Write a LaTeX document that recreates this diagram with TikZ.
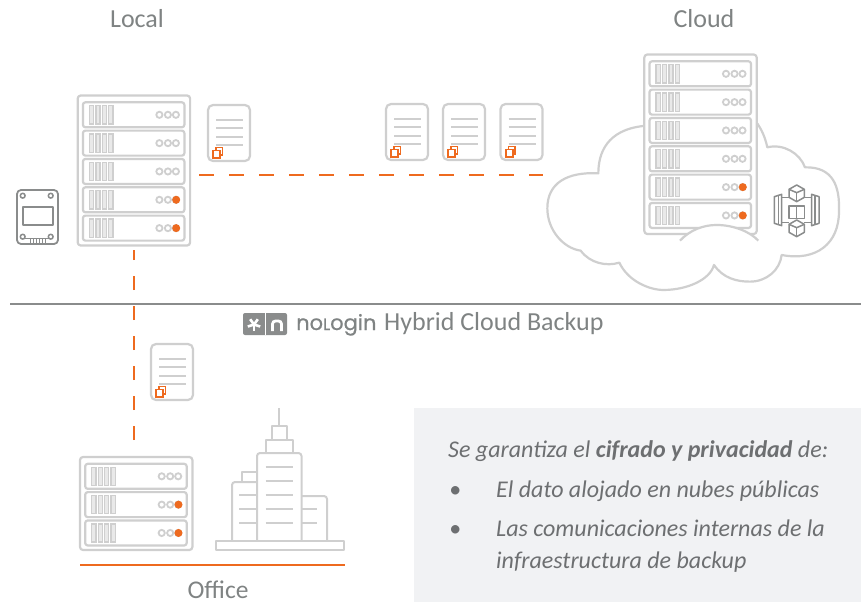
\documentclass[tikz,border=0pt]{standalone}
\usepackage{fontspec}
\setmainfont{Carlito}
\newfontfamily\logofont[FakeBold=0.6]{Poppins}
\definecolor{lg}{HTML}{CFCFCF}
\definecolor{og}{HTML}{EE6A1F}
\definecolor{dg}{HTML}{8A8C8C}
\definecolor{tx}{HTML}{7F8383}
\definecolor{ptx}{HTML}{6D6F71}
\definecolor{panel}{HTML}{F1F2F4}
\tikzset{
  lightline/.style={draw=lg,line width=2.2pt,line join=round},
  thinlight/.style={draw=lg,line width=1.9pt},
  orangeline/.style={draw=og,line width=1.8pt},
  dashh/.style={orangeline,dash pattern=on 15pt off 15pt},
  dashv/.style={orangeline,dash pattern=on 14pt off 16pt},
  iconline/.style={draw=dg,line width=1.5pt,line join=round},
  lbl/.style={text=tx,font=\fontsize{26}{28}\selectfont,inner sep=0pt},
  ptext/.style={text=ptx,font=\fontsize{24}{26}\selectfont\itshape,inner sep=0pt,anchor=base west}
}
\newcommand{\srvrow}[4]{%
  \begin{scope}[shift={(#1,#2)}]
    \draw[lightline,rounded corners=2.5pt] (0,0) rectangle (#3,25);
    \foreach \b in {6.6,13,19.4,25.8}{\draw[draw=lg,fill=lg!45!white,line width=1.3pt] (\b,3.4) rectangle +(4.2,18.2);}
    \foreach \d in {76.5,85,93}{\draw[draw=lg,line width=1.8pt,fill=white] (\d,12.5) circle (3.1);}
    \ifnum#4=1 \fill[og] (93.3,12.5) circle (4);\fi
  \end{scope}}
\newcommand{\rackbox}[5]{%
  \draw[lightline,rounded corners=3pt,fill=white] (#1,#2) rectangle ++(112.4,#3);
  \foreach \i in {1,...,#4}{%
    \pgfmathtruncatemacro{\lit}{\i>=#5 ? 1 : 0}%
    \pgfmathsetmacro{\ry}{#2+6.8+(\i-1)*28.33}%
    \srvrow{#1+5.2}{\ry}{101.5}{\lit}}}
\newcommand{\docicon}[2]{%
  \begin{scope}[shift={(#1,#2)}]
    \draw[lightline,fill=white,rounded corners=5pt] (0,0) rectangle (42,56);
    \foreach \l in {15,23.4,31.7,40}{\draw[thinlight] (8,\l) -- (35,\l);}
    \draw[draw=og,line width=1.3pt,fill=white] (8,42.5) rectangle +(6.5,7.5);
    \draw[draw=og,line width=1.8pt,fill=white] (5.3,45.5) rectangle +(6.8,7.5);
  \end{scope}}
\begin{document}
\begin{tikzpicture}[x=1pt,y=-1pt]
\useasboundingbox (0,0) rectangle (861,602);
\fill[panel] (414,408) rectangle (861,602);
\draw[draw=dg,line width=1.5pt] (10,304) -- (861,304);
\coordinate (dA) at (199,175);
\coordinate (dB) at (543,175);
\coordinate (dC) at (134,250);
\coordinate (dD) at (134,440);
\draw[dashh] (dA) -- (dB);
\draw[dashv] (dD) -- (dC);
\node[lbl] (local) at (137,19) {Local};
\node[lbl] (cloud) at (704,19) {Cloud};
\node[lbl,font=\fontsize{25.5}{28}\selectfont] (office) at (218,590) {Office};
\node[lbl,anchor=west] (hcb) at (384,324) {Hybrid Cloud Backup};
% cloud
\begin{scope}[shift={(540,40)},x=0.3333pt,y=-0.3333pt]
\draw[lightline,fill=white]
 (652,250) .. controls (665,270) and (675,290) .. (682,322)
 .. controls (730,310) and (780,340) .. (795,382)
 .. controls (880,380) and (900,440) .. (897,515)
 .. controls (897,610) and (830,665) .. (725,645)
 .. controls (720,690) and (680,725) .. (630,725)
 .. controls (590,725) and (550,715) .. (522,675)
 .. controls (510,720) and (440,750) .. (370,750)
 .. controls (330,750) and (265,725) .. (238,668)
 .. controls (200,680) and (150,670) .. (122,632)
 .. controls (70,625) and (22,570) .. (22,505)
 .. controls (22,430) and (80,395) .. (175,400)
 .. controls (175,340) and (200,270) .. (310,258);
\end{scope}
\rackbox{77.7}{95.5}{150}{5}{4}
\rackbox{644.3}{54.5}{179.5}{6}{5}
\begin{scope}[shift={(540,40)},x=0.3333pt,y=-0.3333pt]
\fill[white] (420,602) .. controls (450,570) and (490,555) .. (530,555)
 .. controls (580,555) and (630,575) .. (655,602) -- (655,640) -- (420,640) -- cycle;
\draw[lightline] (420,602) .. controls (450,570) and (490,555) .. (530,555)
 .. controls (580,555) and (630,575) .. (655,602);
\end{scope}
\rackbox{80}{457}{93}{3}{2}
\docicon{208}{105}
\docicon{386}{104}
\docicon{443}{104}
\docicon{500.5}{104}
\docicon{151}{344}
% ssd
\begin{scope}[shift={(17,190)}]
\draw[iconline,rounded corners=4pt,line width=1.8pt] (0,0) rectangle (41,54);
\draw[iconline,line width=1.8pt] (5.7,16.7) rectangle (35.7,35);
\foreach \p in {(5.7,5.7),(33.7,5.7),(5.7,46.7),(33.7,46.7)}{\draw[iconline] \p circle (2.4);}
\foreach \q in {13,16,19,22,25,28}{\draw[iconline,line width=1pt] (\q,48) -- (\q,53);}
\draw[iconline,line width=1pt] (8,48) -- (33,48);
\end{scope}
% glacier
\begin{scope}[shift={(765,175)},x=0.3333pt,y=-0.3333pt]
\draw[iconline] (28,65) -- (50,58) -- (50,152) -- (28,145) -- cycle;
\draw[iconline] (162,65) -- (140,58) -- (140,152) -- (162,145) -- cycle;
\draw[iconline] (40,60) -- (40,150);
\draw[iconline] (150,60) -- (150,150);
\draw[iconline] (50,68) -- (72,68);
\draw[iconline] (140,68) -- (118,68);
\draw[iconline] (50,142) -- (72,142);
\draw[iconline] (140,142) -- (118,142);
\draw[iconline,fill=white] (72,93) rectangle (118,130);
\draw[iconline] (95,93) -- (95,130);
\foreach \c in {55,160}{
  \draw[iconline,fill=white] (95,\c-25) -- (118,\c-12) -- (118,\c+12) -- (95,\c+25) -- (72,\c+12) -- (72,\c-12) -- cycle;
  \draw[iconline] (95,\c-2) -- (95,\c+25);
  \draw[iconline] (72,\c-12) -- (95,\c-2) -- (118,\c-12);
}
\end{scope}
% logo
\fill[dg,rounded corners=2pt] (243,313) rectangle (287,335);
\draw[white,line width=1pt] (265,313) -- (265,335);
\coordinate (starc) at (254,324.5);
\foreach \a in {90,162,234,306,18}{\draw[white,line width=2.6pt] (starc) -- ++(\a:6.5);}
\draw[white,line width=2.8pt,rounded corners=3pt] (272.5,331) -- (272.5,321) -- (281.5,321) -- (281.5,331);
\node[text=tx,font=\logofont\fontsize{21}{24}\selectfont,inner sep=0pt,anchor=base west] (logo) at (296,330) {no{\fontsize{16.5}{16.5}\selectfont L}ogin};
% building
\begin{scope}[line join=round]
\tikzset{bldg/.style={draw=lg,line width=2pt}}
\draw[bldg] (215.5,541) rectangle (343.5,549.5);
\draw[bldg,rounded corners=3pt] (232,541) -- (232,482) -- (257,482);
\draw[bldg] (242,482) -- (242,472) -- (257,472);
\draw[bldg,rounded corners=3pt] (257,541) -- (257,453) -- (301.5,453) -- (301.5,541);
\draw[bldg,rounded corners=3pt] (301.5,496) -- (327,496) -- (327,541);
\draw[bldg] (266,452) -- (266,440) -- (293,440) -- (293,452);
\draw[bldg] (272,440) -- (272,426) -- (287,426) -- (287,440);
\draw[bldg] (279,426) -- (279,408);
\foreach \y in {467,481,495,509,523}{\draw[thinlight] (265.5,\y) -- (293,\y);}
\foreach \y in {495,509,523}{\draw[thinlight] (239,\y) -- (257,\y);}
\foreach \y in {509,523}{\draw[thinlight] (301.5,\y) -- (317,\y);}
\end{scope}
\draw[orangeline,line width=1.4pt] (80,565) -- (345,565);
% panel text
\node[ptext] (t1) at (448,457.5) {Se garantiza el \textbf{cifrado y privacidad} de:};
\node[ptext] (b1) at (449,497) {•};
\node[ptext] (t2) at (496,497) {El dato alojado en nubes públicas};
\node[ptext] (b2) at (449,536) {•};
\node[ptext] (t3) at (496,536) {Las comunicaciones internas de la};
\node[ptext] (t4) at (496,568) {infraestructura de backup};
\end{tikzpicture}
\end{document}
